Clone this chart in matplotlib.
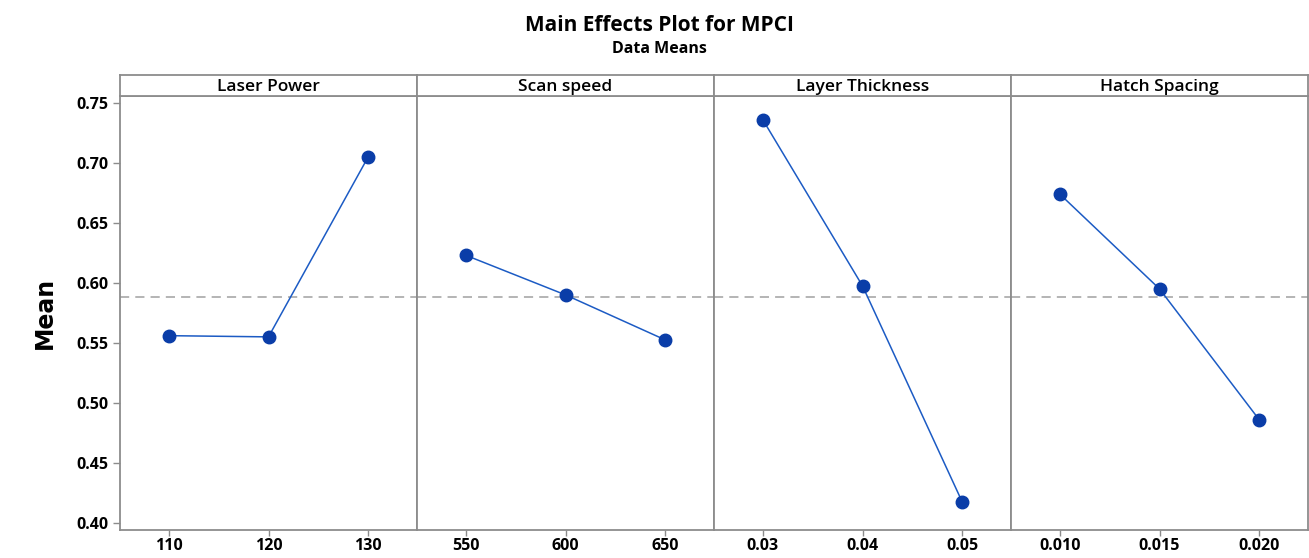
import matplotlib
matplotlib.use("Agg")
import matplotlib.pyplot as plt

# factor names, levels and the data means
factors = ["Laser Power", "Scan speed", "Layer Thickness", "Hatch Spacing"]
levels = [
    ["110", "120", "130"],
    ["550", "600", "650"],
    ["0.03", "0.04", "0.05"],
    ["0.010", "0.015", "0.020"],
]
means = [
    [0.556, 0.555, 0.705],
    [0.623, 0.590, 0.5525],
    [0.736, 0.5975, 0.4175],
    [0.674, 0.595, 0.486],
]
grand_mean = 0.588
yticks = [0.40, 0.45, 0.50, 0.55, 0.60, 0.65, 0.70, 0.75]

plt.rcParams["font.family"] = ["Open Sans", "DejaVu Sans"]
frame = "#8c8c8c"

fig = plt.figure(figsize=(13.09, 5.58), dpi=100)
left, right = 120 / 1309, 1308 / 1309
bottom, top = 1 - 530 / 558, 1 - 96 / 558
strip_h = 21 / 558
w = (right - left) / 4

for i, name in enumerate(factors):
    ax = fig.add_axes([left + i * w, bottom, w, top - bottom])
    x = list(range(len(levels[i])))
    ax.axhline(grand_mean, color="#a0a0a0", lw=1.1, ls=(0, (6, 4)), zorder=1)
    ax.plot(x, means[i], color="#1c5bc4", lw=1.1, marker="o", markersize=9,
            markerfacecolor="#0a3da8", markeredgecolor="#0a3da8", zorder=3)
    ax.set_xlim(-0.49, 2.49)
    ax.set_ylim(0.394, 0.7558)
    ax.set_xticks(x)
    ax.set_xticklabels(levels[i], fontsize=11.5, fontweight="bold")
    ax.set_yticks(yticks)
    if i == 0:
        ax.set_yticklabels([f"{t:.2f}" for t in yticks], fontsize=11.5, fontweight="bold")
        ax.set_ylabel("Mean", fontsize=17, fontweight="bold",
                      family=["Liberation Sans Narrow", "DejaVu Sans"], labelpad=14)
        ax.tick_params(axis="y", length=5, color=frame, width=1)
    else:
        ax.tick_params(axis="y", left=False, labelleft=False)
    ax.tick_params(axis="x", length=4, color=frame, width=1, pad=1.5)
    for s in ax.spines.values():
        s.set_color(frame)
        s.set_linewidth(1.3)

    sax = fig.add_axes([left + i * w, top, w, strip_h])
    sax.set_xticks([])
    sax.set_yticks([])
    for s in sax.spines.values():
        s.set_color(frame)
        s.set_linewidth(1.3)
    sax.text(0.5, 0.45, name, ha="center", va="center", fontsize=12.5,
             fontweight="semibold", transform=sax.transAxes)

fig.text(0.504, 0.955, "Main Effects Plot for MPCI", ha="center", va="center",
         fontsize=15, fontweight="bold")
fig.text(0.504, 0.912, "Data Means", ha="center", va="center",
         fontsize=11.5, fontweight="bold")

fig.savefig("out.png", dpi=100)
